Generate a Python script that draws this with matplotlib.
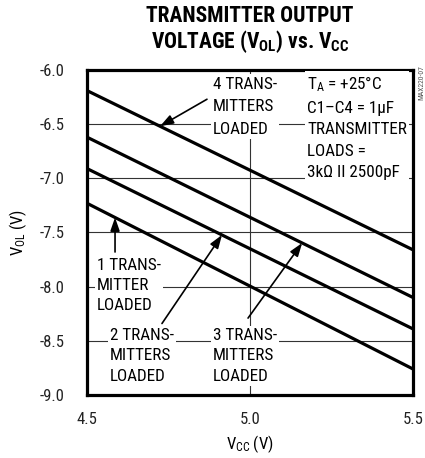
import numpy as np
import matplotlib
matplotlib.use("Agg")
import matplotlib.pyplot as plt
from matplotlib import font_manager as fm

_fonts = {}
for f in fm.fontManager.ttflist:
    _fonts.setdefault(f.name, set()).add(int(f.weight) if str(f.weight).isdigit() else 400)

def pick(cands, weight=400):
    for c in cands:
        if c in _fonts and (weight <= 400 or max(_fonts[c]) >= weight):
            return c
    return "DejaVu Sans"

REG = pick(["Roboto Condensed", "Archivo Narrow", "PT Sans Narrow", "Liberation Sans Narrow",
            "IBM Plex Sans Condensed", "Fira Sans Condensed", "Encode Sans Condensed",
            "Barlow Semi Condensed", "Sofia Sans Condensed", "Saira SemiCondensed"])
BOLD = pick(["Roboto Condensed", "Archivo Narrow", "Barlow Condensed", "Fira Sans Condensed",
             "IBM Plex Sans Condensed", "Saira SemiCondensed"], 700)
TW = 900 if max(_fonts.get(BOLD, {700})) >= 900 else "bold"

plt.rcParams["font.family"] = [REG, "DejaVu Sans"]
plt.rcParams["mathtext.fontset"] = "custom"
plt.rcParams["mathtext.rm"] = REG
plt.rcParams["mathtext.it"] = REG
plt.rcParams["mathtext.bf"] = BOLD + (":black" if TW == 900 else ":bold")

# ---- data ----
vcc = [4.5, 5.5]
vol_1tx = [-7.23, -8.76]
vol_2tx = [-6.91, -8.39]
vol_3tx = [-6.62, -8.10]
vol_4tx = [-6.19, -7.66]

x_ticks = [4.5, 5.0, 5.5]
x_ticklabels = ["4.5", "5.0", "5.5"]
y_ticks = [-6.0, -6.5, -7.0, -7.5, -8.0, -8.5, -9.0]
y_ticklabels = ["-6.0", "-6.5", "-7.0", "-7.5", "-8.0", "-8.5", "-9.0"]

W, H = 425, 458
fig = plt.figure(figsize=(W / 100, H / 100), dpi=100)
ax = fig.add_axes([87 / W, 1 - 395 / H, (413 - 87) / W, (395 - 70) / H])

ax.set_xlim(4.5, 5.5)
ax.set_ylim(-9.0, -6.0)

for y in y_ticks[1:-1]:
    ax.axhline(y, color="#333333", lw=0.8, zorder=1)
ax.axvline(5.0, color="#333333", lw=0.8, zorder=1)

for vals in (vol_1tx, vol_2tx, vol_3tx, vol_4tx):
    ax.plot(vcc, vals, color="black", lw=2.3, solid_capstyle="butt", zorder=2)

for s in ax.spines.values():
    s.set_linewidth(2.3)

ax.set_xticks(x_ticks)
ax.set_xticklabels(x_ticklabels)
ax.set_yticks(y_ticks)
ax.set_yticklabels(y_ticklabels)
ax.tick_params(length=0, labelsize=12, colors="#222222")
ax.tick_params(axis="x", pad=12)
ax.tick_params(axis="y", pad=16)

ax.set_xlabel(r"$\mathregular{V_{CC}}$ (V)", fontsize=12, labelpad=5)
ax.set_ylabel(r"$\mathregular{V_{OL}}$ (V)", fontsize=12, labelpad=8)

fig.text(250 / W, 1 - 30 / H, "TRANSMITTER OUTPUT\n" + r"VOLTAGE ($\mathbf{V_{OL}}$) vs. $\mathbf{V_{CC}}$",
         ha="center", va="center", fontsize=15.5, fontweight=TW, family=[BOLD, "DejaVu Sans"],
         linespacing=1.05)

fig.text(421 / W, 1 - 83 / H, "MAX220-07", rotation=90, ha="center", va="center",
         fontsize=5.5, color="#555555")

box = dict(facecolor="white", edgecolor="none", pad=1.5)
tfs = 12.3
ax.text(4.886, -6.34, "4 TRANS-\nMITTERS\nLOADED", ha="left", va="center",
        fontsize=tfs, linespacing=1.65, bbox=box, zorder=3)
ax.text(5.175, -6.53, r"T$_\mathregular{A}$ = +25°C" + "\nC1–C4 = 1µF\nTRANSMITTER\nLOADS =\n3kΩ II 2500pF",
        ha="left", va="center", fontsize=tfs, linespacing=1.55, bbox=box, zorder=3)
ax.text(4.531, -7.99, "1 TRANS-\nMITTER\nLOADED", ha="left", va="center",
        fontsize=tfs, linespacing=1.45, bbox=box, zorder=3)
ax.text(4.571, -8.64, "2 TRANS-\nMITTERS\nLOADED", ha="left", va="center",
        fontsize=tfs, linespacing=1.45, bbox=box, zorder=3)
ax.text(4.886, -8.64, "3 TRANS-\nMITTERS\nLOADED", ha="left", va="center",
        fontsize=tfs, linespacing=1.45, bbox=box, zorder=3)

arrow = dict(arrowstyle="-|>,head_length=0.8,head_width=0.28", color="black", lw=1.2,
             shrinkA=0, shrinkB=0)

def arr(series, xtip, tail):
    ytip = float(np.interp(xtip, vcc, series))
    ax.annotate("", xy=(xtip, ytip), xytext=tail, arrowprops=arrow, zorder=4)

arr(vol_1tx, 4.586, (4.586, -7.68))
arr(vol_2tx, 4.914, (4.730, -8.34))
arr(vol_3tx, 5.160, (4.994, -8.29))
arr(vol_4tx, 4.724, (4.868, -6.27))

fig.savefig("out.png", dpi=100)
